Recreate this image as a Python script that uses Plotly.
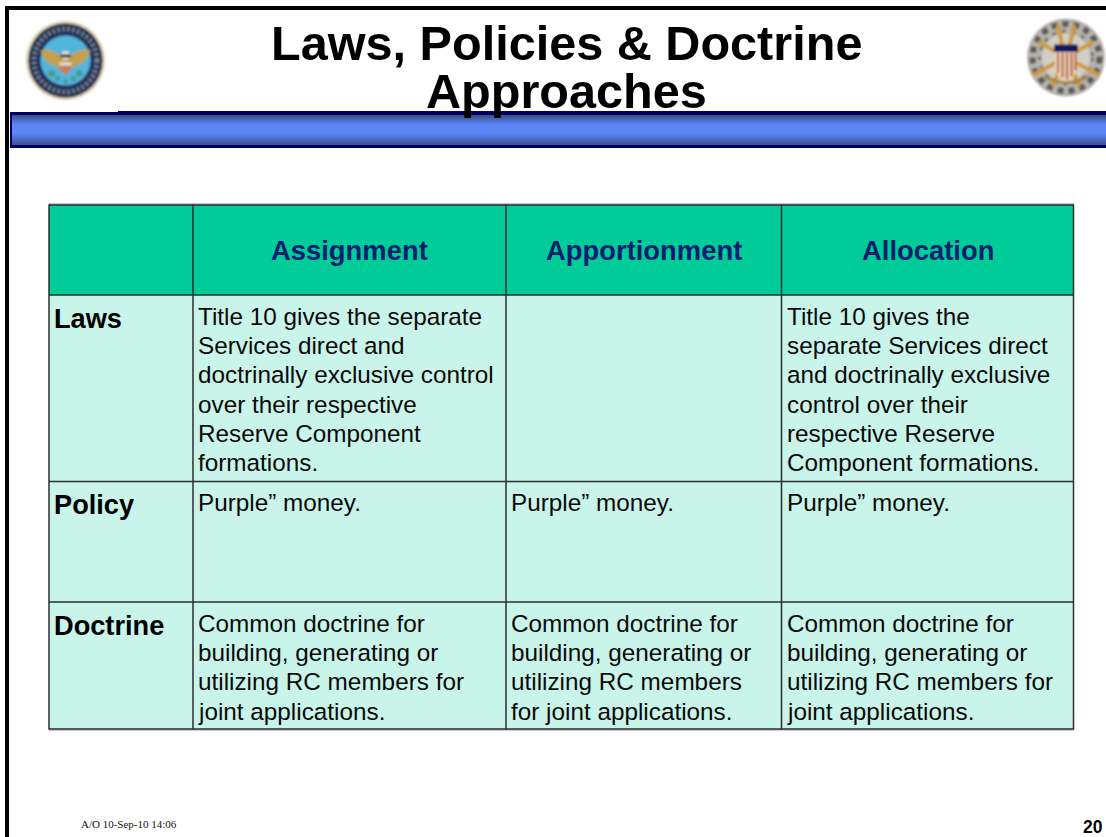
import base64
import plotly.graph_objects as go

# ---------- content ----------
title_lines = ["Laws, Policies &amp; Doctrine", "Approaches"]
column_headers = ["Assignment", "Apportionment", "Allocation"]
row_labels = ["Laws", "Policy", "Doctrine"]
laws_cells = [
    ["Title 10 gives the separate", "Services direct and", "doctrinally exclusive control",
     "over their respective", "Reserve Component", "formations."],
    [],
    ["Title 10 gives the", "separate Services direct", "and doctrinally exclusive",
     "control over their", "respective Reserve", "Component formations."],
]
policy_cells = [["Purple\u201d money."], ["Purple\u201d money."], ["Purple\u201d money."]]
doctrine_cells = [
    ["Common doctrine for", "building, generating or", "utilizing RC members for", "joint applications."],
    ["Common doctrine for", "building, generating or", "utilizing RC members", "for joint applications."],
    ["Common doctrine for", "building, generating or", "utilizing RC members for", "joint applications."],
]
footer_left = "A/O 10-Sep-10 14:06"
page_number = "20"

# ---------- layout geometry (pixels) ----------
W, H = 1106, 837
col_edges = [49, 193, 506, 781.5, 1073.5]
row_edges = [205, 295, 481.5, 602, 729]
LINE = 29.35
SANS = "Liberation Sans, Arial, sans-serif"
SERIF = "Liberation Serif, Times New Roman, serif"
GRID = "#2a2f2e"
HEAD_BG = "#00CC99"
CELL_BG = "#C9F4E9"
NAVY = "#00206F"

shapes, notes = [], []


def rect(x0, y0, x1, y1, fill):
    shapes.append(dict(type="rect", xref="x", yref="y", x0=x0, y0=y0, x1=x1, y1=y1,
                       fillcolor=fill, line=dict(width=0), layer="above"))


def line(x0, y0, x1, y1, color=GRID, width=1.5):
    shapes.append(dict(type="line", xref="x", yref="y", x0=x0, y0=y0, x1=x1, y1=y1,
                       line=dict(color=color, width=width), layer="above"))


def text(x, y, s, size, color="#000000", bold=False, anchor="left", family=SANS):
    notes.append(dict(xref="x", yref="y", x=x, y=y, text=f"<b>{s}</b>" if bold else s,
                      showarrow=False, xanchor=anchor, yanchor="middle", borderpad=0, borderwidth=0,
                      align=anchor, font=dict(family=family, size=size, color=color)))


def mix(a, b, t):
    return "#%02x%02x%02x" % tuple(round(a[i] + (b[i] - a[i]) * t) for i in range(3))


# page frame
rect(5, 6, W, 10, "#000000")
rect(5, 6, 9, H, "#000000")

# banner: dark edge, then a vertical gradient to a bright centre
MID, BRIGHT = (58, 78, 135), (92, 134, 248)
rect(118, 111, W, 113, "#000060")
rect(10, 112, W, 115, "#000060")
rect(10, 145, W, 148, "#000060")
rect(10, 112, 12, 148, "#000060")
for y in range(115, 145):
    if y < 124:
        c = mix(MID, BRIGHT, (y - 115) / 9)
    elif y < 133:
        c = mix(BRIGHT, BRIGHT, 0)
    else:
        c = mix(BRIGHT, MID, (y - 133) / 12)
    rect(12, y, W, y + 1, c)

# table fills
rect(col_edges[0], row_edges[0], col_edges[-1], row_edges[1], HEAD_BG)
rect(col_edges[0], row_edges[1], col_edges[-1], row_edges[-1], CELL_BG)
line(col_edges[0] - 0.5, 204, col_edges[-1] + 0.5, 204, color="#8a8a8a", width=1)
line(col_edges[0] - 0.5, row_edges[-1] + 1, col_edges[-1] + 0.5, row_edges[-1] + 1, color="#9a9a9a", width=1)
for x in col_edges:
    line(x, row_edges[0] - 0.5, x, row_edges[-1] + 0.5)
for y in row_edges:
    line(col_edges[0], y, col_edges[-1], y)

# title, footer
text(566, 43, title_lines[0], 48.6, bold=True, anchor="center")
text(566, 91, title_lines[1], 48.6, bold=True, anchor="center")
text(81, 824, footer_left, 11, family=SERIF, color="#111111")
text(1103, 826.5, page_number, 17.5, bold=True, anchor="right")

# table text
for i, h in enumerate(column_headers):
    text((col_edges[i + 1] + col_edges[i + 2]) / 2, 250.5, h, 27.4, color=NAVY, bold=True, anchor="center")

body = [laws_cells, policy_cells, doctrine_cells]
first_line = [316, 502, 623]
for r, label in enumerate(row_labels):
    text(col_edges[0] + 5, first_line[r] + 2, label, 27.2, bold=True)
    for c, lines in enumerate(body[r]):
        for k, s in enumerate(lines):
            text(col_edges[c + 1] + 5, first_line[r] + k * LINE, s, 24.3, color="#0a0a0a")


# ---------- seals as soft vector pictures ----------
def svg_uri(body, w, h, blur):
    svg = (f'<svg xmlns="http://www.w3.org/2000/svg" width="{w}" height="{h}" viewBox="0 0 {w} {h}">'
           f'<defs><filter id="b" x="-10%" y="-10%" width="120%" height="120%">'
           f'<feGaussianBlur stdDeviation="{blur}"/></filter></defs><g filter="url(#b)">{body}</g></svg>')
    return "data:image/svg+xml;base64," + base64.b64encode(svg.encode()).decode()


dod = """
<circle cx="44" cy="44" r="39.5" fill="#cdb894" opacity="0.75"/>
<circle cx="44" cy="44" r="37" fill="#23304f"/>
<circle cx="44" cy="44" r="31.5" fill="none" stroke="#9aa6b4" stroke-width="5" stroke-dasharray="2.5 2.5" opacity="0.65"/>
<circle cx="44" cy="44" r="27" fill="#233a66"/>
<circle cx="44" cy="44" r="25" fill="#52b4dc"/>
<path d="M19 34 Q32 31 42 42 L46 42 Q56 31 69 34 Q66 47 53 50 L44 56 L35 50 Q22 47 19 34Z" fill="#c2a04e"/>
<circle cx="44" cy="39" r="4.5" fill="#e8e4d6"/>
<rect x="39" y="38" width="10" height="3" fill="#2a2a2a"/>
<path d="M38 46 H50 V53 L44 59 L38 53Z" fill="#c4805a"/>
<path d="M38 46 H50 V49 H38Z" fill="#e8e4d8"/>
<circle cx="30" cy="57" r="3.2" fill="#4c9a86"/><circle cx="58" cy="57" r="3.2" fill="#4c9a86"/>
<circle cx="36" cy="62" r="2.6" fill="#4c9a86"/><circle cx="52" cy="62" r="2.6" fill="#4c9a86"/>
<circle cx="44" cy="65" r="2.2" fill="#4c9a86"/>
"""
jcs = """
<circle cx="40" cy="41" r="39" fill="#b5b2ac"/>
<circle cx="40" cy="41" r="33.5" fill="none" stroke="#5a5a58" stroke-width="6" stroke-dasharray="6 5"/>
<circle cx="40" cy="41" r="26.5" fill="none" stroke="#77756f" stroke-width="3" stroke-dasharray="4 6"/>
<circle cx="40" cy="41" r="24" fill="#d2cfc4"/>
<g stroke="#cf9a3c" stroke-width="4.2" fill="none" stroke-linecap="round">
<path d="M40 41 L8 58"/><path d="M40 41 L72 58"/><path d="M40 41 L14 26"/><path d="M40 41 L66 26"/>
<path d="M32 10 L38 36"/><path d="M48 10 L42 36"/><path d="M40 41 L27 68"/><path d="M40 41 L53 68"/>
</g>
<path d="M18 60 Q40 72 62 60" fill="none" stroke="#a98438" stroke-width="3"/>
<path d="M29 30 H51 V50 Q51 60 40 65 Q29 60 29 50Z" fill="#e8dcc0"/>
<g stroke="#b8583c" stroke-width="2.2"><path d="M32 36 V56"/><path d="M36.5 36 V61"/><path d="M41 36 V63"/><path d="M45.5 36 V60"/><path d="M49.5 36 V54"/></g>
<rect x="28" y="28" width="24" height="7.5" rx="1" fill="#0a1460"/>
"""
images = [
    dict(source=svg_uri(dod, 88, 88, 0.9), xref="paper", yref="paper", x=21.5 / W, y=1 - 16.5 / H,
         sizex=88 / W, sizey=88 / H, sizing="stretch", xanchor="left", yanchor="top", layer="above"),
    dict(source=svg_uri(jcs, 80, 82, 0.8), xref="paper", yref="paper", x=1026 / W, y=1 - 16.5 / H,
         sizex=80 / W, sizey=82 / H, sizing="stretch", xanchor="left", yanchor="top", layer="above"),
]

fig = go.Figure()
fig.update_layout(
    width=W, height=H, margin=dict(l=0, r=0, t=0, b=0, pad=0),
    paper_bgcolor="#FFFFFF", plot_bgcolor="#FFFFFF", showlegend=False,
    xaxis=dict(range=[0, W], visible=False, fixedrange=True),
    yaxis=dict(range=[H, 0], visible=False, fixedrange=True),
    shapes=shapes, annotations=notes, images=images,
)
fig.write_html("out.html", config={"displayModeBar": False},
               post_script="document.body.style.margin='0';document.body.style.overflow='hidden';")
